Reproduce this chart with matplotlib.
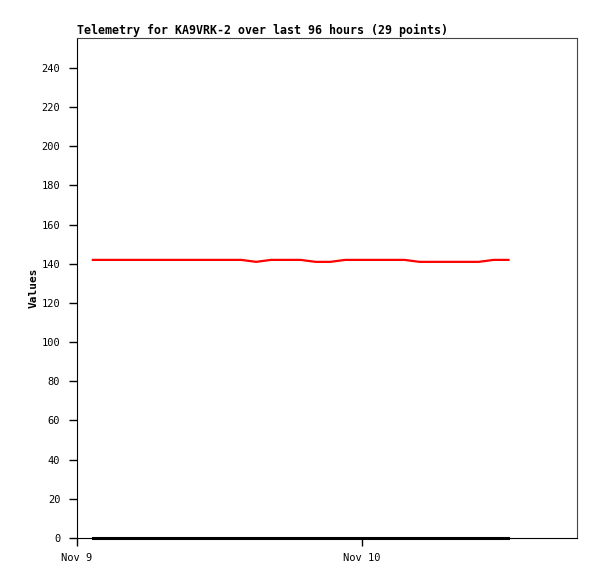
import numpy as np
import matplotlib.pyplot as plt
import matplotlib.dates as mdates
from datetime import datetime, timedelta

# 29 telemetry samples, ~75 min apart
start = datetime(2024, 11, 9, 1, 20)
times = [start + timedelta(minutes=75 * i) for i in range(29)]
ch1 = [142, 142, 142, 142, 142, 142, 142, 142, 142, 142,
       142, 141, 142, 142, 142, 141, 141, 142, 142, 142,
       142, 142, 141, 141, 141, 141, 141, 142, 142]
ch2 = [0] * 29

plt.rcParams['font.family'] = ['DejaVu Sans Mono']

fig = plt.figure(figsize=(5.97, 5.79), dpi=100)
ax = fig.add_axes([77 / 597, 41 / 579, 500 / 597, 500 / 579])

ax.plot(times, ch1, color="red", lw=1.6)
ax.plot(times, ch2, color="black", lw=2.2, clip_on=False)

ax.set_xlim(datetime(2024, 11, 9), datetime(2024, 11, 9) + timedelta(days=500 / 285))
ax.set_ylim(0, 255.3)
ax.set_yticks(np.arange(0, 241, 20))
ax.xaxis.set_major_locator(mdates.DayLocator())
ax.xaxis.set_major_formatter(mdates.DateFormatter('%b %-d'))

ax.tick_params(axis='both', labelsize=7.5, length=6, width=1, direction='out', pad=6)
ax.tick_params(axis='x', pad=5)
for s in ['left', 'bottom']:
    ax.spines[s].set_color('black')
for s in ['top', 'right']:
    ax.spines[s].set_color('#444444')

ax.set_ylabel("Values", fontsize=8, fontweight='bold', labelpad=2)
ax.set_title("Telemetry for KA9VRK-2 over last 96 hours (29 points)",
             fontsize=8.35, fontweight='bold', loc='left', pad=3)

fig.savefig("out.png", dpi=100)
